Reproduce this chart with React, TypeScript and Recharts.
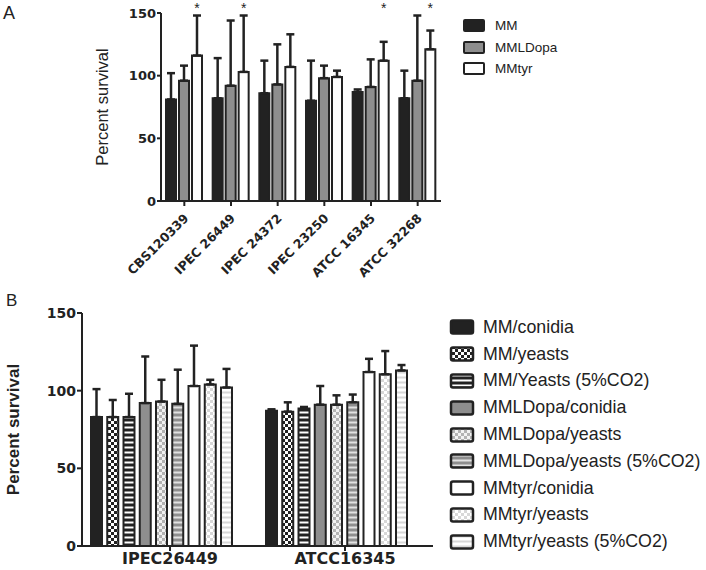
// Two-panel survival chart: A = strains by medium, B = two strains by medium/morphotype
import { Bar, BarChart, ErrorBar, LabelList, Legend, XAxis, YAxis } from "recharts";

// ---- panel A data ----
const strainsA = ["CBS120339", "IPEC 26449", "IPEC 24372", "IPEC 23250", "ATCC 16345", "ATCC 32268"];
const namesA = ["MM", "MMLDopa", "MMtyr"];
const mmA = [81, 82, 86, 80, 87, 82];
const mmErrA = [21, 32, 26, 32, 2, 22];
const ldopaA = [96, 92, 93, 98, 91, 96];
const ldopaErrA = [12, 52, 32, 10, 22, 52];
const tyrA = [116, 103, 107, 99, 112, 121];
const tyrErrA = [32, 45, 26, 5, 15, 15];
const starA = [true, true, false, false, true, true];

// ---- panel B data ----
const strainsB = ["IPEC26449", "ATCC16345"];
const namesB = [
  "MM/conidia",
  "MM/yeasts",
  "MM/Yeasts (5%CO2)",
  "MMLDopa/conidia",
  "MMLDopa/yeasts",
  "MMLDopa/yeasts (5%CO2)",
  "MMtyr/conidia",
  "MMtyr/yeasts",
  "MMtyr/yeasts (5%CO2)",
];
const mmConidia = [83, 87];
const mmConidiaErr = [18, 1];
const mmYeasts = [83, 86.5];
const mmYeastsErr = [11, 6];
const mmYeastsCo2 = [83, 88.5];
const mmYeastsCo2Err = [15, 1];
const ldConidia = [92, 91];
const ldConidiaErr = [30, 12];
const ldYeasts = [93, 91];
const ldYeastsErr = [14, 6];
const ldYeastsCo2 = [91.5, 92.5];
const ldYeastsCo2Err = [22, 5];
const tyrConidia = [103, 112];
const tyrConidiaErr = [26, 8.5];
const tyrYeasts = [104, 110.5];
const tyrYeastsErr = [3, 15];
const tyrYeastsCo2 = [102, 113];
const tyrYeastsCo2Err = [12, 3.5];
const yTicks = [0, 50, 100, 150];

const INK = "#222";
const GRAY = "#8e8e8e";
const FONT = "'Liberation Sans', Arial, sans-serif";
const BOLD = "'DejaVu Sans', Verdana, sans-serif";

const fillsA = [INK, GRAY, "#fff"];
const fillsB = [
  INK,
  "url(#chkDark)",
  "url(#strDark)",
  GRAY,
  "url(#chkMid)",
  "url(#strMid)",
  "#fff",
  "url(#chkLight)",
  "url(#strLight)",
];

const valuesB = [mmConidia, mmYeasts, mmYeastsCo2, ldConidia, ldYeasts, ldYeastsCo2, tyrConidia, tyrYeasts, tyrYeastsCo2];
const errsB = [
  mmConidiaErr,
  mmYeastsErr,
  mmYeastsCo2Err,
  ldConidiaErr,
  ldYeastsErr,
  ldYeastsCo2Err,
  tyrConidiaErr,
  tyrYeastsErr,
  tyrYeastsCo2Err,
];

const dataA = strainsA.map((strain, i) => ({
  strain,
  mm: mmA[i],
  mmErr: [0, mmErrA[i]],
  ldopa: ldopaA[i],
  ldopaErr: [0, ldopaErrA[i]],
  tyr: tyrA[i],
  tyrErr: [0, tyrErrA[i]],
}));
const keysA = ["mm", "ldopa", "tyr"];

const dataB = strainsB.map((strain, i) => {
  const row: Record<string, any> = { strain };
  valuesB.forEach((vals, k) => {
    row[`v${k}`] = vals[i];
    row[`e${k}`] = [0, errsB[k][i]];
  });
  return row;
});

// svg patterns for the hatched bars (legend swatches reuse them by id)
const patternDefs = (
  <defs>
    <pattern id="chkDark" width="6" height="6" patternUnits="userSpaceOnUse">
      <rect width="6" height="6" fill={INK} />
      <rect width="3" height="3" fill="#fff" />
      <rect x="3" y="3" width="3" height="3" fill="#fff" />
    </pattern>
    <pattern id="strDark" width="6" height="5" patternUnits="userSpaceOnUse">
      <rect width="6" height="5" fill={INK} />
      <rect y="1.5" width="6" height="2" fill="#fff" />
    </pattern>
    <pattern id="chkMid" width="6" height="6" patternUnits="userSpaceOnUse">
      <rect width="6" height="6" fill="#f2f2f2" />
      <rect width="3" height="3" fill="#b3b3b3" />
      <rect x="3" y="3" width="3" height="3" fill="#b3b3b3" />
    </pattern>
    <pattern id="strMid" width="6" height="5" patternUnits="userSpaceOnUse">
      <rect width="6" height="5" fill={GRAY} />
      <rect y="1.5" width="6" height="2" fill="#e2e2e2" />
    </pattern>
    <pattern id="chkLight" width="6" height="6" patternUnits="userSpaceOnUse">
      <rect width="6" height="6" fill="#fff" />
      <rect width="3" height="3" fill="#d8d8d8" />
      <rect x="3" y="3" width="3" height="3" fill="#d8d8d8" />
    </pattern>
    <pattern id="strLight" width="6" height="5" patternUnits="userSpaceOnUse">
      <rect width="6" height="5" fill="#fff" />
      <rect y="1.5" width="6" height="2" fill="#d8d8d8" />
    </pattern>
  </defs>
);

function YTitle(props: any) {
  const vb = props.viewBox;
  const x = vb.x + props.dx;
  const y = vb.y + vb.height / 2;
  return (
    <text
      x={x}
      y={y}
      transform={`rotate(-90 ${x} ${y})`}
      textAnchor="middle"
      dominantBaseline="central"
      fill={INK}
      fontFamily={FONT}
      fontSize={props.size}
      fontWeight={props.weight}
    >
      Percent survival
    </text>
  );
}

function StrainTick({ x, y, payload }: any) {
  const px = x + 5;
  const py = y + 11;
  return (
    <text
      x={px}
      y={py}
      transform={`rotate(-45 ${px} ${py})`}
      textAnchor="end"
      fill={INK}
      fontFamily={BOLD}
      fontWeight={700}
      fontSize={12.5}
    >
      {payload.value}
    </text>
  );
}

// GraphPad drew the group ticks a bit right of the bar clusters
function GroupTick({ x, y, payload }: any) {
  const tx = x + 8.5;
  return (
    <g>
      <line x1={tx} x2={tx} y1={y - 6} y2={y - 1} stroke={INK} strokeWidth={2} />
      <text x={tx} y={y + 12} textAnchor="middle" fill={INK} fontFamily={BOLD} fontWeight={700} fontSize={16}>
        {payload.value}
      </text>
    </g>
  );
}

function Star(props: any) {
  const vb = props.viewBox ?? props;
  const { x, y, width, height } = vb;
  const value = Number(props.value);
  if (!starA[props.index] || !value) return null;
  const zeroY = y + height;
  const sy = zeroY - (150 / value) * height;
  return (
    <text x={x + width / 2} y={sy} textAnchor="middle" fill={INK} fontFamily={FONT} fontSize={14}>
      *
    </text>
  );
}

function LegendA() {
  return (
    <div style={{ fontFamily: FONT, fontSize: 13.5, color: INK }}>
      {namesA.map((n, i) => (
        <div key={n} style={{ display: "flex", alignItems: "center", height: 21.5 }}>
          <svg width={24} height={13} style={{ marginRight: 9, flex: "none" }}>
            <rect x={2} y={1} width={20} height={11} rx={1} fill={fillsA[i]} stroke={INK} strokeWidth={2} />
          </svg>
          <span>{n}</span>
        </div>
      ))}
    </div>
  );
}

function LegendB() {
  return (
    <div style={{ fontFamily: FONT, fontSize: 17.8, color: INK }}>
      {namesB.map((n, i) => (
        <div key={n} style={{ display: "flex", alignItems: "center", height: 26.8, whiteSpace: "nowrap" }}>
          <svg width={26} height={16} style={{ marginRight: 8, flex: "none" }}>
            <rect x={2} y={1.5} width={22} height={13} rx={2} fill={fillsB[i]} stroke={INK} strokeWidth={2.5} />
          </svg>
          <span>{n}</span>
        </div>
      ))}
    </div>
  );
}

const axisLine = { stroke: INK, strokeWidth: 2 };

export default function App() {
  return (
    <div
      style={{
        position: "absolute",
        left: 0,
        top: 0,
        width: 706,
        height: 570,
        background: "#fff",
        overflow: "hidden",
      }}
    >
      <div style={{ position: "absolute", left: 3, top: 3, fontFamily: FONT, fontSize: 18, color: INK }}>A</div>
      <div style={{ position: "absolute", left: 6, top: 291, fontFamily: FONT, fontSize: 17, color: INK }}>B</div>

      <div style={{ position: "absolute", left: 0, top: 0 }}>
        <BarChart
          width={706}
          height={290}
          data={dataA}
          margin={{ top: 13, right: 265, left: 101, bottom: 29 }}
          barSize={10}
          barGap={3}
        >
          {patternDefs}
          <XAxis
            dataKey="strain"
            interval={0}
            height={60}
            axisLine={axisLine}
            tickLine={axisLine}
            tickSize={5}
            tickMargin={2}
            tick={<StrainTick />}
          />
          <YAxis
            width={60}
            domain={[0, 150]}
            ticks={yTicks}
            allowDataOverflow
            axisLine={axisLine}
            tickLine={axisLine}
            tickSize={4}
            tickMargin={1}
            tick={{ fill: INK, fontSize: 13, fontFamily: BOLD, fontWeight: 700 }}
            label={<YTitle dx={1} size={16.5} weight={400} />}
          />
          <Legend
            layout="vertical"
            align="center"
            verticalAlign="middle"
            wrapperStyle={{ left: 462, top: 15, width: 200 }}
            content={<LegendA />}
          />
          {keysA.map((k, i) => (
            <Bar
              key={k}
              dataKey={k}
              name={namesA[i]}
              fill={fillsA[i]}
              stroke={INK}
              strokeWidth={2}
              isAnimationActive={false}
            >
              <ErrorBar dataKey={`${k}Err`} width={4} stroke={INK} strokeWidth={2.5} isAnimationActive={false} />
              {k === "tyr" && <LabelList dataKey="tyr" content={<Star />} />}
            </Bar>
          ))}
        </BarChart>
      </div>

      <div style={{ position: "absolute", left: 0, top: 280 }}>
        <BarChart
          width={706}
          height={290}
          data={dataB}
          margin={{ top: 33, right: 273, left: 22, bottom: 4 }}
          barSize={11}
          barGap={5.25}
        >
          <XAxis
            dataKey="strain"
            interval={0}
            height={20}
            padding={{ left: -8, right: 9 }}
            axisLine={axisLine}
            tickLine={false}
            tickSize={6}
            tickMargin={0}
            tick={<GroupTick />}
          />
          <YAxis
            width={60}
            domain={[0, 150]}
            ticks={yTicks}
            allowDataOverflow
            axisLine={axisLine}
            tickLine={axisLine}
            tickSize={5}
            tickMargin={1}
            tick={{ fill: INK, fontSize: 14, fontFamily: BOLD, fontWeight: 700 }}
            label={<YTitle dx={-9} size={17} weight={700} />}
          />
          <Legend
            layout="vertical"
            align="center"
            verticalAlign="middle"
            wrapperStyle={{ left: 449, top: 34, width: 257 }}
            content={<LegendB />}
          />
          {namesB.map((n, k) => (
            <Bar
              key={n}
              dataKey={`v${k}`}
              name={n}
              fill={fillsB[k]}
              stroke={INK}
              strokeWidth={2}
              isAnimationActive={false}
            >
              <ErrorBar dataKey={`e${k}`} width={4} stroke={INK} strokeWidth={2.5} isAnimationActive={false} />
            </Bar>
          ))}
        </BarChart>
      </div>
    </div>
  );
}
